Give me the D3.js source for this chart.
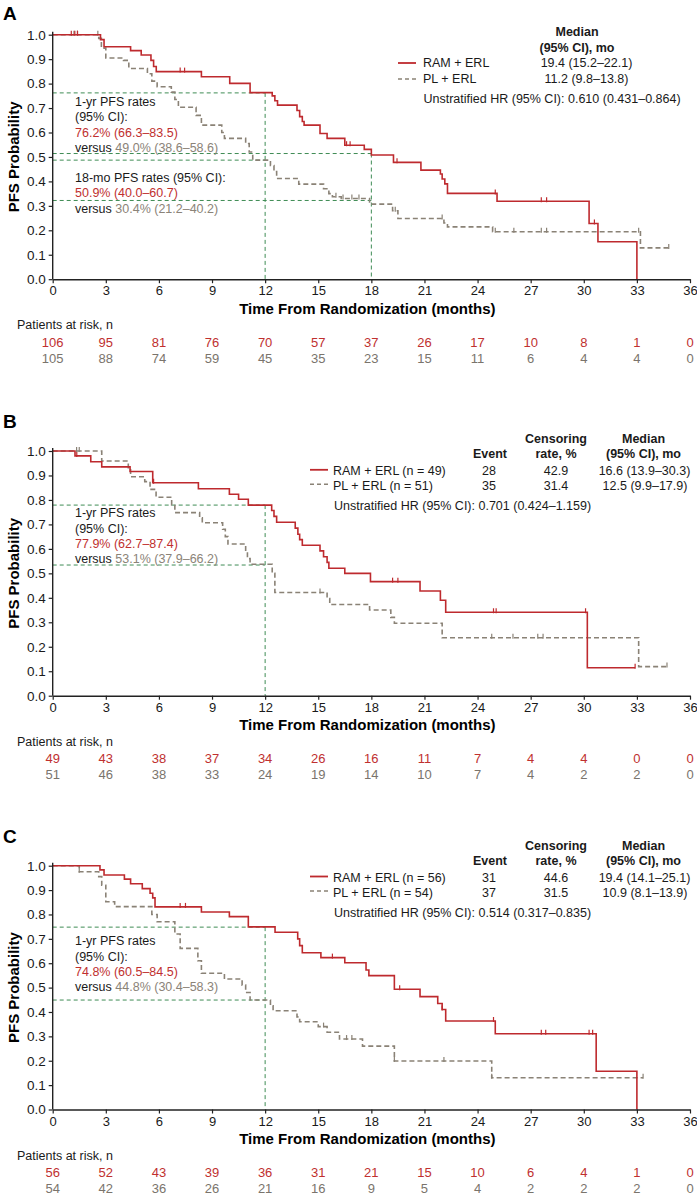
<!DOCTYPE html>
<html><head><meta charset="utf-8">
<script src="https://cdn.jsdelivr.net/npm/d3@7"></script>
<style>
html,body{margin:0;padding:0;background:#fff;}
svg text{font-family:"Liberation Sans",Arial,sans-serif;}
</style></head>
<body>
<svg id="chart" width="697" height="1196"></svg>
<script>
// ---------- shared ticks ----------
const xTicks = [0,3,6,9,12,15,18,21,24,27,30,33,36];
const yTicks = [0,0.1,0.2,0.3,0.4,0.5,0.6,0.7,0.8,0.9,1.0];
const panelLabels = ["A","B","C"];

// ---------- Panel A ----------
const A_ramT = [0,2.7,2.9,4.4,5.0,5.55,5.7,5.85,8.4,10.0,11.15,12.4,12.55,12.7,13.8,13.95,14.1,14.2,15.1,15.5,16.5,17.6,18.0,19.25,20.8,21.9,22.0,22.15,22.3,25.1,30.3,30.8,33.0];
const A_ramS = [1.0,0.98,0.951,0.935,0.917,0.895,0.87,0.849,0.828,0.801,0.763,0.75,0.73,0.712,0.69,0.665,0.645,0.63,0.596,0.576,0.548,0.531,0.508,0.478,0.446,0.43,0.41,0.39,0.351,0.319,0.228,0.153,0.0];
const A_ramEnd = 33.0;
const A_ramCens = [1.05,1.25,1.4,7.2,7.45,16.6,16.8,19.45,25.0,27.6,27.9,30.6];
const A_plT = [0,2.6,2.75,3.0,4.0,4.3,5.35,5.6,5.9,6.7,6.9,7.1,8.1,8.4,9.55,9.7,10.9,11.1,11.3,12.3,12.5,12.65,13.9,15.3,15.6,15.8,16.3,17.9,19.2,19.5,22.1,22.3,24.85,33.2];
const A_plS = [1.0,0.985,0.945,0.905,0.895,0.862,0.84,0.81,0.787,0.765,0.735,0.703,0.67,0.63,0.60,0.576,0.555,0.52,0.487,0.465,0.44,0.412,0.389,0.37,0.35,0.337,0.33,0.307,0.28,0.248,0.23,0.214,0.194,0.128];
const A_plEnd = 34.8;
const A_plCens = [1.2,1.4,2.55,16.0,16.4,16.9,17.3,19.35,22.0,25.0,26.05,27.6,27.9,33.1,34.8];
const A_riskRam = [106,95,81,76,70,57,37,26,17,10,8,1,0];
const A_riskPl = [105,88,74,59,45,35,23,15,11,6,4,4,0];
const A_hRefS = [0.762,0.487,0.514,0.322];
const A_hRefT = [12,12,18,18];
const A_vRefT = [12,18];
const A_vRefS = [0.762,0.514];

// ---------- Panel B ----------
const B_ramT = [0,1.26,2.15,2.77,4.37,5.65,8.23,9.98,10.5,11.05,12.37,12.5,12.65,13.7,13.85,13.95,14.1,15.1,15.3,15.5,15.6,16.5,17.95,20.75,21.9,22.2,30.2];
const B_ramS = [1.0,0.98,0.956,0.935,0.916,0.87,0.846,0.823,0.803,0.779,0.757,0.733,0.709,0.685,0.66,0.638,0.615,0.592,0.568,0.545,0.521,0.50,0.466,0.428,0.39,0.341,0.114];
const B_ramEnd = 32.9;
const B_ramCens = [1.36,5.7,19.2,19.5,24.9,25.05,30.1,32.9];
const B_plT = [0,2.77,4.27,4.4,5.2,5.5,5.84,6.72,6.9,8.3,8.45,9.6,9.75,9.9,10.9,11.0,11.15,12.4,12.55,15.5,15.65,17.9,19.1,19.3,22.0,33.1];
const B_plS = [1.0,0.959,0.927,0.895,0.875,0.843,0.811,0.78,0.748,0.727,0.707,0.68,0.65,0.62,0.59,0.56,0.537,0.5,0.422,0.397,0.373,0.35,0.32,0.296,0.237,0.119];
const B_plEnd = 34.7;
const B_plCens = [1.35,1.5,15.1,24.8,26.0,27.4,27.7,34.7];
const B_riskRam = [49,43,38,37,34,26,16,11,7,4,4,0,0];
const B_riskPl = [51,46,38,33,24,19,14,10,7,4,2,2,0];
const B_hRefS = [0.779,0.534];
const B_hRefT = [12,12];
const B_vRefT = [12];
const B_vRefS = [0.779];

// ---------- Panel C ----------
const C_ramT = [0,2.67,2.9,4.05,4.4,5.06,5.5,5.65,5.78,8.4,9.98,11.05,12.56,13.84,13.95,14.1,15.15,16.5,17.7,17.86,19.3,20.75,21.75,22.0,22.2,25.0,30.7,33.0];
const C_ramS = [1.0,0.983,0.962,0.945,0.926,0.906,0.887,0.868,0.831,0.810,0.791,0.749,0.727,0.70,0.672,0.643,0.623,0.602,0.572,0.549,0.493,0.463,0.435,0.41,0.363,0.311,0.157,0.0];
const C_ramEnd = 33.0;
const C_ramCens = [7.2,7.5,15.8,19.6,22.0,24.9,27.6,27.85,30.3,30.5];
const C_plT = [0,1.5,2.6,2.77,3.0,3.5,5.6,5.9,6.9,7.2,8.2,8.4,9.7,10.7,10.9,11.15,12.3,12.45,13.8,13.95,15.0,15.5,16.2,17.5,19.3,24.8];
const C_plS = [1.0,0.975,0.955,0.92,0.852,0.832,0.80,0.77,0.72,0.661,0.61,0.559,0.535,0.51,0.48,0.449,0.425,0.405,0.38,0.36,0.34,0.317,0.289,0.26,0.199,0.13];
const C_plEnd = 33.35;
const C_plCens = [1.5,15.3,16.6,16.9,19.3,22.1,24.8,33.35];
const C_riskRam = [56,52,43,39,36,31,21,15,10,6,4,1,0];
const C_riskPl = [54,42,36,26,21,16,9,5,4,2,2,2,0];
const C_hRefS = [0.748,0.449];
const C_hRefT = [12,12];
const C_vRefT = [12];
const C_vRefS = [0.748];

// ---------- styles ----------
const RED = "#be2a2e", GRAY = "#8a8276", GREEN = "#3f8c55", INK = "#1a1a1a";
const RED_TXT = "#c0302f", GRAY_TXT = "#8b8378";
const FONT = 12.5;

const svg = d3.select("#chart");

const panels = [
  {label:"A", top:34.7, bottom:279.2, labelY:20,
   ram:{T:A_ramT,S:A_ramS,end:A_ramEnd,c:A_ramCens}, pl:{T:A_plT,S:A_plS,end:A_plEnd,c:A_plCens},
   riskR:A_riskRam, riskP:A_riskPl, hS:A_hRefS, hT:A_hRefT, vT:A_vRefT, vS:A_vRefS,
   legendType:1,
   legRam:"RAM + ERL", legPl:"PL + ERL", medR:"19.4 (15.2–22.1)", medP:"11.2 (9.8–13.8)",
   hr:"Unstratified HR (95% CI): 0.610 (0.431–0.864)",
   notes:[
     {y:101.7, parts:[["1-yr PFS rates",INK]]},
     {y:117.3, parts:[["(95% CI):",INK]]},
     {y:132.5, parts:[["76.2% (66.3–83.5)",RED_TXT]]},
     {y:147.5, parts:[["versus ",INK],["49.0% (38.6–58.6)",GRAY_TXT]]},
     {y:177.5, parts:[["18-mo PFS rates (95% CI):",INK]]},
     {y:193.3, parts:[["50.9% (40.0–60.7)",RED_TXT]]},
     {y:208.5, parts:[["versus ",INK],["30.4% (21.2–40.2)",GRAY_TXT]]}
   ]},
  {label:"B", top:451.0, bottom:695.7, labelY:428,
   ram:{T:B_ramT,S:B_ramS,end:B_ramEnd,c:B_ramCens}, pl:{T:B_plT,S:B_plS,end:B_plEnd,c:B_plCens},
   riskR:B_riskRam, riskP:B_riskPl, hS:B_hRefS, hT:B_hRefT, vT:B_vRefT, vS:B_vRefS,
   legendType:2, legTop:439.3,
   legRam:"RAM + ERL (n = 49)", legPl:"PL + ERL (n = 51)",
   evR:"28", evP:"35", cenR:"42.9", cenP:"31.4", medR:"16.6 (13.9–30.3)", medP:"12.5 (9.9–17.9)",
   hr:"Unstratified HR (95% CI): 0.701 (0.424–1.159)",
   notes:[
     {y:513.3, parts:[["1-yr PFS rates",INK]]},
     {y:529.0, parts:[["(95% CI):",INK]]},
     {y:544.3, parts:[["77.9% (62.7–87.4)",RED_TXT]]},
     {y:559.3, parts:[["versus ",INK],["53.1% (37.9–66.2)",GRAY_TXT]]}
   ]},
  {label:"C", top:865.7, bottom:1109.5, labelY:843,
   ram:{T:C_ramT,S:C_ramS,end:C_ramEnd,c:C_ramCens}, pl:{T:C_plT,S:C_plS,end:C_plEnd,c:C_plCens},
   riskR:C_riskRam, riskP:C_riskPl, hS:C_hRefS, hT:C_hRefT, vT:C_vRefT, vS:C_vRefS,
   legendType:2, legTop:846,
   legRam:"RAM + ERL (n = 56)", legPl:"PL + ERL (n = 54)",
   evR:"31", evP:"37", cenR:"44.6", cenP:"31.5", medR:"19.4 (14.1–25.1)", medP:"10.9 (8.1–13.9)",
   hr:"Unstratified HR (95% CI): 0.514 (0.317–0.835)",
   notes:[
     {y:941.0, parts:[["1-yr PFS rates",INK]]},
     {y:956.7, parts:[["(95% CI):",INK]]},
     {y:971.7, parts:[["74.8% (60.5–84.5)",RED_TXT]]},
     {y:986.7, parts:[["versus ",INK],["44.8% (30.4–58.3)",GRAY_TXT]]}
   ]}
];

const x = d3.scaleLinear().domain([0,36]).range([52.7,690]);

function stepAt(T,S,t){ let v=S[0]; for(let i=0;i<T.length;i++){ if(T[i]<=t) v=S[i]; } return v; }

function txt(g, xx, yy, s, opt={}){
  return g.append("text").attr("x",xx).attr("y",yy)
    .attr("dominant-baseline","central")
    .attr("text-anchor",opt.anchor||"start")
    .attr("font-size",opt.size||FONT)
    .attr("font-weight",opt.bold?"bold":"normal")
    .attr("fill",opt.fill||INK).text(s);
}

panels.forEach(p=>{
  const g = svg.append("g");
  const y = d3.scaleLinear().domain([0,1]).range([p.bottom,p.top]);

  // panel label
  g.append("text").attr("x",3).attr("y",p.labelY).attr("font-size",19).attr("font-weight","bold").attr("fill","#000").text(p.label);

  // reference lines
  p.hS.forEach((s,i)=>{
    g.append("line").attr("x1",x(0)).attr("x2",x(p.hT[i])).attr("y1",y(s)).attr("y2",y(s))
      .attr("stroke",GREEN).attr("stroke-width",1).attr("stroke-dasharray","4,3");
  });
  p.vT.forEach((t,i)=>{
    g.append("line").attr("x1",x(t)).attr("x2",x(t)).attr("y1",y(p.vS[i])).attr("y2",y(0))
      .attr("stroke",GREEN).attr("stroke-width",1).attr("stroke-dasharray","4,3");
  });

  // curves
  const line = d3.line().x(d=>x(d[0])).y(d=>y(d[1])).curve(d3.curveStepAfter);
  [[p.pl,GRAY,"5,3"],[p.ram,RED,null]].forEach(([c,col,dash])=>{
    const pts = c.T.map((t,i)=>[t,c.S[i]]);
    if(c.end>c.T[c.T.length-1]) pts.push([c.end,c.S[c.S.length-1]]);
    const path = g.append("path").attr("d",line(pts)).attr("fill","none")
      .attr("stroke",col).attr("stroke-width",1.6);
    if(dash) path.attr("stroke-dasharray",dash);
    c.c.forEach(t=>{
      const v = stepAt(c.T,c.S,t);
      g.append("line").attr("x1",x(t)).attr("x2",x(t)).attr("y1",y(v)+1).attr("y2",y(v)-4)
        .attr("stroke",col).attr("stroke-width",1.2);
    });
  });

  // axes
  const ax = g.append("g").attr("transform",`translate(0,${p.bottom})`)
    .call(d3.axisBottom(x).tickValues(xTicks).tickSize(4).tickPadding(3).tickSizeOuter(0));
  ax.selectAll("text").attr("font-size",13).attr("fill",INK);
  const ay = g.append("g").attr("transform",`translate(${x(0)},0)`)
    .call(d3.axisLeft(y).tickValues(yTicks).tickFormat(d3.format(".1f")).tickSize(4).tickPadding(3).tickSizeOuter(0));
  ay.selectAll("text").attr("font-size",13.5).attr("fill",INK);
  ay.select(".domain").attr("d",`M0,${p.bottom}V${p.top-3}`);
  [ax,ay].forEach(a=>{ a.select(".domain").attr("stroke","#222").attr("stroke-width",1.4); a.selectAll(".tick line").attr("stroke","#222").attr("stroke-width",1.2); });

  // axis titles
  g.append("text").attr("x",(x(0)+x(36))/2 - 4).attr("y",p.bottom+29).attr("dominant-baseline","central")
    .attr("text-anchor","middle").attr("font-size",15).attr("font-weight","bold").attr("fill","#000")
    .text("Time From Randomization (months)");
  g.append("text").attr("transform",`translate(13,${(p.top+p.bottom)/2}) rotate(-90)`)
    .attr("text-anchor","middle").attr("dominant-baseline","central").attr("font-size",15).attr("font-weight","bold").attr("fill","#000")
    .text("PFS Probability");

  // risk table
  txt(g,17,p.bottom+46,"Patients at risk, n",{size:12.5});
  xTicks.forEach((t,i)=>{
    txt(g,x(t),p.bottom+63,String(p.riskR[i]),{anchor:"middle",fill:RED_TXT,size:13});
    txt(g,x(t),p.bottom+79,String(p.riskP[i]),{anchor:"middle",fill:"#7a746c",size:13});
  });

  // annotations
  p.notes.forEach(n=>{
    const t = g.append("text").attr("x",75).attr("y",n.y).attr("dominant-baseline","central").attr("font-size",FONT);
    n.parts.forEach(([s,col])=>t.append("tspan").attr("fill",col).text(s));
  });

  // legend
  if(p.legendType===1){
    txt(g,577,32,"Median",{anchor:"middle",bold:true});
    txt(g,577,48,"(95% CI), mo",{anchor:"middle",bold:true});
    g.append("line").attr("x1",398).attr("x2",416).attr("y1",63).attr("y2",63).attr("stroke",RED).attr("stroke-width",1.8);
    g.append("line").attr("x1",398).attr("x2",416).attr("y1",79).attr("y2",79).attr("stroke",GRAY).attr("stroke-width",1.6).attr("stroke-dasharray","4,3");
    txt(g,423,63,p.legRam); txt(g,423,79,p.legPl);
    txt(g,586.5,63,p.medR,{anchor:"middle"}); txt(g,586.5,79,p.medP,{anchor:"middle"});
    txt(g,423.5,99,p.hr);
  } else {
    const t0 = p.legTop;
    txt(g,556,t0,"Censoring",{anchor:"middle",bold:true});
    txt(g,643.5,t0,"Median",{anchor:"middle",bold:true});
    txt(g,490,t0+15,"Event",{anchor:"middle",bold:true});
    txt(g,556,t0+15,"rate, %",{anchor:"middle",bold:true});
    txt(g,643.5,t0+15,"(95% CI), mo",{anchor:"middle",bold:true});
    const r1 = t0+31.5, r2 = t0+46.5;
    g.append("line").attr("x1",310).attr("x2",328).attr("y1",r1-1).attr("y2",r1-1).attr("stroke",RED).attr("stroke-width",1.8);
    g.append("line").attr("x1",310).attr("x2",328).attr("y1",r2-1.5).attr("y2",r2-1.5).attr("stroke",GRAY).attr("stroke-width",1.6).attr("stroke-dasharray","4,3");
    txt(g,333,r1,p.legRam); txt(g,333,r2,p.legPl);
    txt(g,489,r1,p.evR,{anchor:"middle"}); txt(g,489,r2,p.evP,{anchor:"middle"});
    txt(g,556,r1,p.cenR,{anchor:"middle"}); txt(g,556,r2,p.cenP,{anchor:"middle"});
    txt(g,644.5,r1,p.medR,{anchor:"middle"}); txt(g,645,r2,p.medP,{anchor:"middle"});
    txt(g,334,t0+66.5,p.hr);
  }
});
</script>
</body></html>
